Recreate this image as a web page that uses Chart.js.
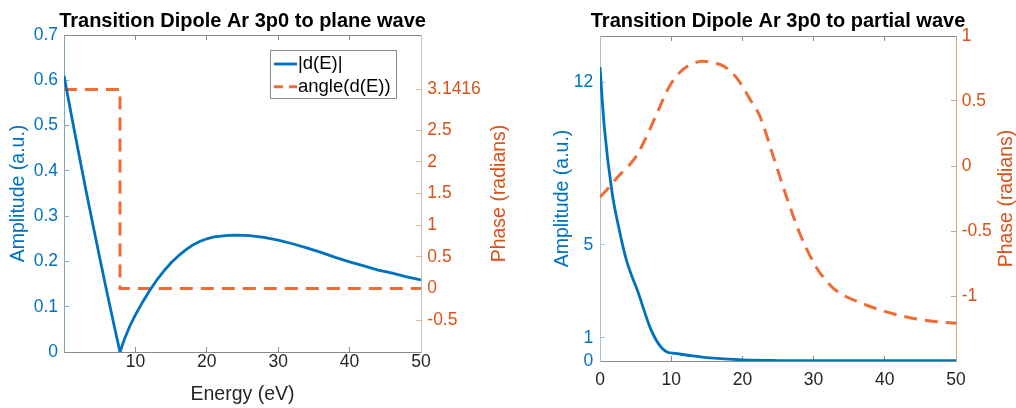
<!DOCTYPE html>
<html>
<head>
<meta charset="utf-8">
<script src="https://cdn.jsdelivr.net/npm/chart.js@4.4.1/dist/chart.umd.min.js"></script>
<style>
  html, body { margin: 0; padding: 0; background: #fff; }
  body { width: 1016px; height: 408px; position: relative; overflow: hidden; }
  .panel { position: absolute; top: 0; }
  #left { left: 0; }
  #right { left: 530px; }
</style>
</head>
<body>
<div class="panel" id="left"><canvas id="planeChart" width="530" height="408"></canvas></div>
<div class="panel" id="right"><canvas id="partialChart" width="486" height="408"></canvas></div>
<script>
// --- plane wave panel ---
const PLANE_ENERGY = [0, 1, 2, 3, 4, 5, 6, 7, 7.84, 8.5, 9.24, 10, 11, 12, 13, 14, 15, 16, 17, 18, 19, 20, 21, 22, 23, 24, 26, 28, 30, 32, 34, 36, 38, 40, 42, 44, 46, 48, 50];
const PLANE_AMP = [0.61, 0.526, 0.444, 0.363, 0.285, 0.208, 0.133, 0.06, 0, 0.03, 0.058, 0.082, 0.11, 0.136, 0.159, 0.179, 0.197, 0.212, 0.225, 0.236, 0.244, 0.25, 0.254, 0.256, 0.2575, 0.258, 0.257, 0.253, 0.247, 0.239, 0.23, 0.22, 0.209, 0.199, 0.19, 0.181, 0.174, 0.166, 0.159];
const PLANE_PHASE_ENERGY = [0, 7.84, 7.84, 50];
const PLANE_PHASE = [Math.PI, Math.PI, 0, 0];
const PLANE_X_TICKS = [10, 20, 30, 40, 50];
const PLANE_AMP_TICKS = [0, 0.1, 0.2, 0.3, 0.4, 0.5, 0.6, 0.7];
const PLANE_PHASE_TICKS = [-0.5, 0, 0.5, 1, 1.5, 2, 2.5, Math.PI];
const PLANE_PHASE_LABELS = ['-0.5', '0', '0.5', '1', '1.5', '2', '2.5', '3.1416'];

// --- partial wave panel ---
const PARTIAL_AMP_ENERGY = [0, 0.6, 1.7, 2.6, 3.7, 5.4, 7, 8.2, 9.4, 10.5, 13, 16, 20, 25, 30, 40, 50];
const PARTIAL_AMP = [12.66, 10.1, 7.25, 5.8, 4.36, 2.92, 1.47, 0.75, 0.39, 0.33, 0.22, 0.12, 0.05, 0.02, 0.01, 0.01, 0.01];
const PARTIAL_PHASE_ENERGY = [0, 1, 1.87, 3, 4, 5.15, 6.3, 7.96, 9, 9.83, 10.6, 11.5, 12.5, 13.5, 14.5, 16, 17.3, 18.5, 19.7, 21, 22.5, 24.3, 26.2, 28.1, 30.4, 31.8, 33.2, 36.5, 39.8, 43.5, 47.3, 50];
const PARTIAL_PHASE = [-0.238, -0.18, -0.123, -0.055, 0, 0.08, 0.2, 0.4, 0.53, 0.62, 0.68, 0.735, 0.775, 0.797, 0.805, 0.795, 0.77, 0.72, 0.64, 0.52, 0.377, 0.08, -0.238, -0.525, -0.78, -0.885, -0.96, -1.05, -1.115, -1.167, -1.198, -1.21];
const PARTIAL_X_TICKS = [0, 10, 20, 30, 40, 50];
const PARTIAL_AMP_TICKS = [0, 1, 5, 12];
const PARTIAL_PHASE_TICKS = [-1, -0.5, 0, 0.5, 1];

const BLUE = '#0072BD';
const ORANGE = '#D95319';
const ORANGE_LINE = '#EE6C36';
const INK = '#262626';
const FONT = "'Liberation Sans', Arial, Helvetica, sans-serif";

const toPoints = (xs, ys) => xs.map((x, i) => ({ x, y: ys[i] }));
const setTicks = list => scale => { scale.ticks = list.map(v => ({ value: v })); };

// MATLAB style: tick marks pointing into the box, no grid
const inward = color => ({
  drawOnChartArea: false, drawTicks: true, tickLength: -5,
  color, tickColor: color, lineWidth: 1, tickWidth: 1
});

// title, right-hand axis label (reads bottom-up) and boxed legend
const decor = {
  id: 'decor',
  afterDatasetsDraw(chart, args, opts) {
    const { ctx, chartArea: a } = chart;
    ctx.save();
    ctx.font = `bold 20px ${FONT}`;
    ctx.fillStyle = '#000';
    ctx.textAlign = 'center';
    ctx.textBaseline = 'alphabetic';
    ctx.fillText(opts.title, (a.left + a.right) / 2, opts.titleY);

    ctx.translate(opts.rightTitleX, (a.top + a.bottom) / 2);
    ctx.rotate(-Math.PI / 2);
    ctx.font = `19.5px ${FONT}`;
    ctx.fillStyle = ORANGE;
    ctx.textBaseline = 'middle';
    ctx.fillText(opts.rightTitle, 0, 0);
    ctx.restore();

    if (!opts.legend) return;
    const w = 127, h = 49;
    const x0 = a.right - 24 - w, y0 = a.top + 15;
    ctx.save();
    ctx.fillStyle = '#fff';
    ctx.fillRect(x0, y0, w, h);
    ctx.strokeStyle = '#8c8c8c';
    ctx.lineWidth = 1;
    ctx.strokeRect(x0 + 0.5, y0 + 0.5, w - 1, h - 1);
    chart.data.datasets.forEach((ds, i) => {
      const y = y0 + 14 + i * 22.7;
      ctx.strokeStyle = ds.borderColor;
      ctx.lineWidth = ds.borderWidth;
      ctx.setLineDash(ds.borderDash ? [9, 6] : []);
      ctx.beginPath();
      ctx.moveTo(x0 + 4, y);
      ctx.lineTo(x0 + 27, y);
      ctx.stroke();
      ctx.setLineDash([]);
      ctx.fillStyle = '#000';
      ctx.font = `18.5px ${FONT}`;
      ctx.textAlign = 'left';
      ctx.textBaseline = 'middle';
      ctx.fillText(ds.label, x0 + 28, y);
    });
    ctx.restore();
  }
};

const tickFont = { family: FONT, size: 17.5 };
const labelFont = { family: FONT, size: 19.5 };

new Chart(document.getElementById('planeChart'), {
  type: 'line',
  data: {
    datasets: [{
      label: '|d(E)|',
      data: toPoints(PLANE_ENERGY, PLANE_AMP),
      yAxisID: 'yAmp',
      borderColor: BLUE, borderWidth: 2.8,
      pointRadius: 0, tension: 0, fill: false
    }, {
      label: 'angle(d(E))',
      data: toPoints(PLANE_PHASE_ENERGY, PLANE_PHASE),
      yAxisID: 'yPhase',
      borderColor: ORANGE_LINE, borderWidth: 3, borderDash: [13, 8],
      pointRadius: 0, tension: 0, fill: false
    }]
  },
  options: {
    responsive: false,
    animation: false,
    events: [],
    layout: { padding: { top: 35, left: 0, right: 19, bottom: 0 } },
    plugins: {
      legend: { display: false },
      tooltip: { enabled: false },
      decor: {
        title: 'Transition Dipole Ar 3p0 to plane wave', titleY: 26.5,
        rightTitle: 'Phase (radians)', rightTitleX: 500, legend: true
      }
    },
    scales: {
      x: {
        type: 'linear', position: 'bottom', min: 0, max: 50,
        afterBuildTicks: setTicks(PLANE_X_TICKS),
        afterFit: s => { s.height = 56; },
        ticks: { color: INK, font: tickFont, padding: 4.2, maxRotation: 0, autoSkip: false },
        grid: inward('#8a8a8a'),
        border: { color: '#8a8a8a', width: 1 },
        title: { display: true, text: 'Energy (eV)', color: INK, font: labelFont, padding: { top: 0, bottom: 1.3 } }
      },
      xTop: {
        type: 'linear', position: 'top', min: 0, max: 50,
        afterBuildTicks: setTicks(PLANE_X_TICKS),
        afterFit: s => { s.height = 0; },
        ticks: { display: false },
        grid: inward('#8a8a8a'),
        border: { color: '#8a8a8a', width: 1 }
      },
      yAmp: {
        type: 'linear', position: 'left', min: 0, max: 0.7,
        afterBuildTicks: setTicks(PLANE_AMP_TICKS),
        afterFit: s => { s.width = 64; },
        ticks: { color: BLUE, font: tickFont, padding: 11, callback: v => String(+v.toFixed(2)) },
        grid: inward('#86a6bd'),
        border: { color: '#86a6bd', width: 1 },
        title: { display: true, text: 'Amplitude (a.u.)', color: BLUE, font: labelFont, padding: { top: 6.6, bottom: 0 } }
      },
      yPhase: {
        type: 'linear', position: 'right', min: -1, max: 4,
        afterBuildTicks: setTicks(PLANE_PHASE_TICKS),
        afterFit: s => { s.width = 90; },
        ticks: { color: ORANGE, font: tickFont, padding: 11.3, callback: (v, i) => PLANE_PHASE_LABELS[i] },
        grid: inward('#d6bba8'),
        border: { color: '#d6bba8', width: 1 }
      }
    }
  },
  plugins: [decor]
});

new Chart(document.getElementById('partialChart'), {
  type: 'line',
  data: {
    datasets: [{
      label: 'amplitude',
      data: toPoints(PARTIAL_AMP_ENERGY, PARTIAL_AMP),
      yAxisID: 'yAmp',
      borderColor: BLUE, borderWidth: 2.8,
      pointRadius: 0, cubicInterpolationMode: 'monotone', fill: false
    }, {
      label: 'phase',
      data: toPoints(PARTIAL_PHASE_ENERGY, PARTIAL_PHASE),
      yAxisID: 'yPhase',
      borderColor: ORANGE_LINE, borderWidth: 3, borderDash: [13, 8],
      pointRadius: 0, cubicInterpolationMode: 'monotone', fill: false
    }]
  },
  options: {
    responsive: false,
    animation: false,
    events: [],
    layout: { padding: { top: 36, left: 0, right: 0, bottom: 0 } },
    plugins: {
      legend: { display: false },
      tooltip: { enabled: false },
      decor: {
        title: 'Transition Dipole Ar 3p0 to partial wave', titleY: 26.5,
        rightTitle: 'Phase (radians)', rightTitleX: 476.5, legend: false
      }
    },
    scales: {
      x: {
        type: 'linear', position: 'bottom', min: 0, max: 50,
        afterBuildTicks: setTicks(PARTIAL_X_TICKS),
        afterFit: s => { s.height = 47; },
        ticks: { color: INK, font: tickFont, padding: 13.2, maxRotation: 0, autoSkip: false },
        grid: inward('#8a8a8a'),
        border: { color: '#8a8a8a', width: 1 }
      },
      xTop: {
        type: 'linear', position: 'top', min: 0, max: 50,
        afterBuildTicks: setTicks(PARTIAL_X_TICKS),
        afterFit: s => { s.height = 0; },
        ticks: { display: false },
        grid: inward('#8a8a8a'),
        border: { color: '#8a8a8a', width: 1 }
      },
      yAmp: {
        type: 'linear', position: 'left', min: 0, max: 14,
        afterBuildTicks: setTicks(PARTIAL_AMP_TICKS),
        afterFit: s => { s.width = 70; },
        ticks: { color: BLUE, font: tickFont, padding: 11.7, callback: v => String(v) },
        grid: inward('#a3c3d8'),
        border: { color: '#a3c3d8', width: 1 },
        title: { display: true, text: 'Amplitude (a.u.)', color: BLUE, font: labelFont, padding: { top: 20.6, bottom: 0 } }
      },
      yPhase: {
        type: 'linear', position: 'right', min: -1.5, max: 1,
        afterBuildTicks: setTicks(PARTIAL_PHASE_TICKS),
        afterFit: s => { s.width = 60; },
        ticks: { color: ORANGE, font: tickFont, padding: 10.7, callback: v => String(v) },
        grid: inward('#cfa587'),
        border: { color: '#cfa587', width: 1 }
      }
    }
  },
  plugins: [decor]
});
</script>
</body>
</html>
